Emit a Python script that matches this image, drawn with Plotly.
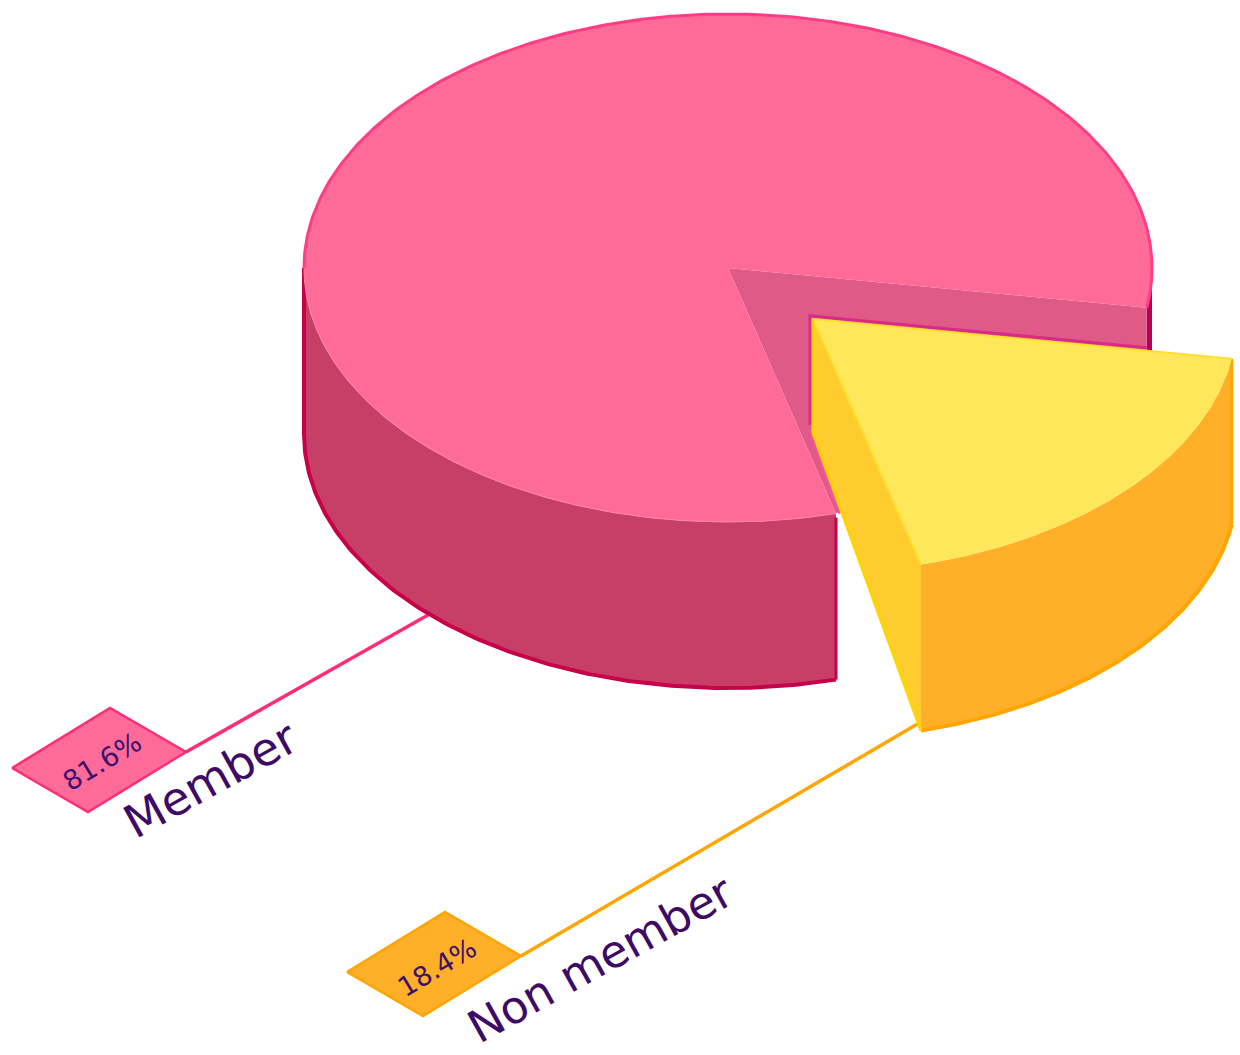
import numpy as np
import plotly.graph_objects as go

# Share of respondents by membership status
categories = ["Member", "Non member"]
values = [81.6, 18.4]

# Pie projection, in page pixels
CX, CY = 728, 268
RX, RY = 424, 254
DEPTH = 166
FIRST_ANGLE = 9.0          # where the non-member wedge starts (degrees, clockwise from east)
PULL_OUT = (85, 51)        # displacement of the detached wedge
APEX_DEPTH = 114           # visible wall height under the detached wedge's apex
CUT_DEPTH = 46             # visible wall height at the back of the cut


def rim(a_from, a_to, origin=(CX, CY), drop=0, n=160):
    t = np.radians(np.linspace(a_from, a_to, n))
    return origin[0] + RX * np.cos(t), origin[1] + RY * np.sin(t) + drop


fig = go.Figure()


def area(x, y, fill, line=None, width=0):
    fig.add_trace(go.Scatter(
        x=list(x), y=list(y), mode="lines", fill="toself", fillcolor=fill,
        line=dict(color=line or fill, width=width if line else 0),
        hoverinfo="skip", showlegend=False))


def stroke(x, y, color, width):
    fig.add_trace(go.Scatter(
        x=list(x), y=list(y), mode="lines", line=dict(color=color, width=width),
        hoverinfo="skip", showlegend=False))


sweep = values[1] * 3.6
a0, a1 = FIRST_ANGLE, FIRST_ANGLE + sweep

# Leader lines and the two value tags
tag_edges = ((98, -60), (76, 44))
tag_origin = [(12, 768), (347, 972)]
leader_end = [(428, 615), (926, 719)]
tag_fill = ["#ff6b99", "#ffb028"]
tag_line = ["#ff2d78", "#ffa500"]
percent_pos = [(102, 761), (437, 967)]
name_pos = [(210, 780), (600, 959)]
name_size = [46, 45]

for i, name in enumerate(categories):
    ox, oy = tag_origin[i]
    (ux, uy), (vx, vy) = tag_edges
    right = (ox + ux + vx, oy + uy + vy)
    stroke([right[0], leader_end[i][0]], [right[1], leader_end[i][1]], tag_line[i], 3.5)
    area([ox, ox + ux, right[0], ox + vx, ox], [oy, oy + uy, right[1], oy + vy, oy],
         tag_fill[i], tag_line[i], 2.5)
    fig.add_annotation(x=percent_pos[i][0], y=percent_pos[i][1], text=f"{values[i]}%",
                       showarrow=False, textangle=-31,
                       font=dict(family="DejaVu Sans", size=27, color="#3d0f6e"))
    fig.add_annotation(x=name_pos[i][0], y=name_pos[i][1], text=name,
                       showarrow=False, textangle=-29,
                       font=dict(family="DejaVu Sans", size=name_size[i], color="#3d0a66"))

# Main block: front wall
wx, wy = rim(a1, 180)
bx, by = rim(180, a1, drop=DEPTH)
area(np.r_[wx, bx], np.r_[wy, by], "#c73f66")
stroke(*rim(a1, 180, drop=DEPTH), "#c8004a", 4)
stroke([CX - RX, CX - RX], [CY, CY + DEPTH], "#c8004a", 4)
end_x, end_y = rim(a1, a1, n=1)
stroke([end_x[0], end_x[0]], [end_y[0] + 4, end_y[0] + DEPTH], "#c8004a", 3)

# Main block: sliver of wall to the right of the cut
rx0, ry0 = rim(0, a0)
start_x, start_y = rim(a0, a0, n=1)
area(np.r_[rx0, start_x, rx0[0]],
     np.r_[ry0, start_y + CUT_DEPTH, ry0[0] + DEPTH / 2],
     "#b8005a")

# Main block: shaded interior of the cut
area([CX, start_x[0], start_x[0], end_x[0], CX],
     [CY, start_y[0], start_y[0] + CUT_DEPTH, end_y[0], CY],
     "#e05a87")

# Main block: top face
tx, ty = rim(a1, a0 + 360, n=400)
area(np.r_[CX, tx, CX], np.r_[CY, ty, CY], "#ff6b99")
stroke(*rim(180, a0 + 360, n=240), "#ff3d85", 3)
stroke(*rim(a1, 180), "#ff85ab", 1)

# Detached wedge
ax, ay = CX + PULL_OUT[0], CY + PULL_OUT[1]
ox1, oy1 = rim(a0, a1, origin=(ax, ay))
ox2, oy2 = rim(a1, a0, origin=(ax, ay), drop=DEPTH)

# Shadow cast on the block along the wedge's upper edges, stopping at the block's rim
frac = (start_x[0] - ax) / (ox1[0] - ax)
stroke([start_x[0], ax - 3, ax - 3],
       [ay + frac * (oy1[0] - ay) - 3, ay - 3, ay + APEX_DEPTH - 8], "#d92a8a", 3)
stroke([ax - 2, end_x[0] + 4], [ay + APEX_DEPTH, end_y[0]], "#ff4da0", 3)

area(np.r_[ox1, ox2], np.r_[oy1, oy2], "#ffb028")
stroke(*rim(a1, a0, origin=(ax, ay), drop=DEPTH), "#ffa500", 4)
stroke([ox1[0], ox1[0]], [oy1[0], oy1[0] + DEPTH], "#ffa500", 3)

area([ax, ox1[-1], ox1[-1], ax, ax],
     [ay, oy1[-1], oy1[-1] + DEPTH, ay + APEX_DEPTH, ay], "#ffcc30")
stroke([ax, ax, ox1[-1]], [ay, ay + APEX_DEPTH, oy1[-1] + DEPTH], "#ffd500", 3)

area(np.r_[ax, ox1, ax], np.r_[ay, oy1, ay], "#ffe75c")
stroke([ox1[0], ax, ox1[-1]], [oy1[0], ay, oy1[-1]], "#ffdf2e", 2)

fig.update_layout(
    width=1240, height=1055, margin=dict(l=0, r=0, t=0, b=0),
    paper_bgcolor="white", plot_bgcolor="white", showlegend=False,
    xaxis=dict(range=[0, 1240], visible=False, fixedrange=True),
    yaxis=dict(range=[1055, 0], visible=False, fixedrange=True),
)
fig.write_html("out.html", config={"displayModeBar": False})
